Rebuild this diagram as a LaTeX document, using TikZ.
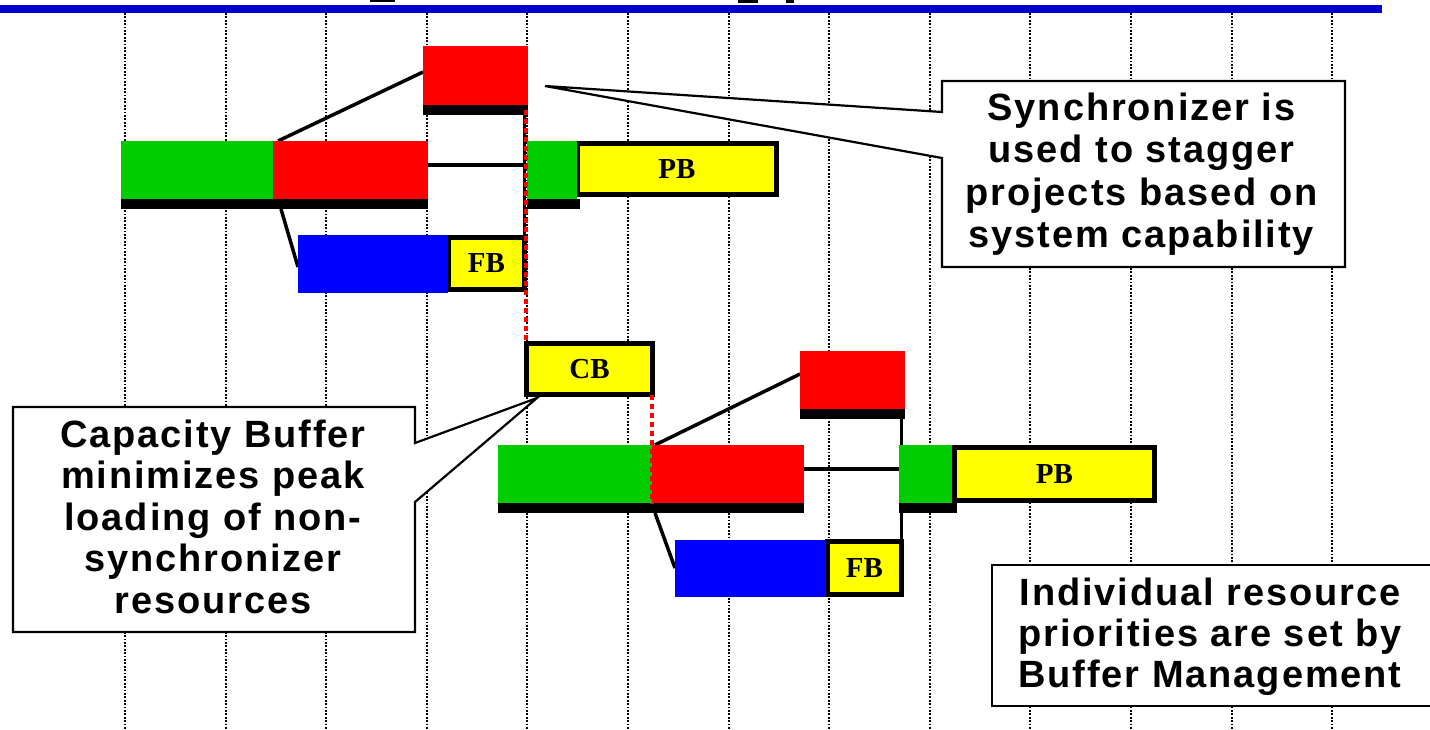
\documentclass[tikz,border=0pt]{standalone}
\usepackage{fontspec}
\newfontfamily\calloutfont[LetterSpace=5.0]{Liberation Sans}
\newfontfamily\labelfont{Liberation Serif}
\usetikzlibrary{calc}
\definecolor{titleblue}{RGB}{0,0,204}
\definecolor{taskgreen}{RGB}{0,204,0}
\definecolor{taskred}{RGB}{255,0,0}
\definecolor{taskblue}{RGB}{0,0,255}
\definecolor{bufyellow}{RGB}{255,255,0}
\tikzset{
  task/.style={rectangle, inner sep=0pt, outer sep=0pt, anchor=north west, draw=none},
  shadowbar/.style={task, fill=black},
  buffer/.style={rectangle, inner sep=0pt, outer sep=0pt, anchor=north west, fill=bufyellow, draw=black, line width=5pt, font=\labelfont\bfseries\fontsize{29}{29}\selectfont},
  link/.style={draw=black, line width=3.5pt},
  syncline/.style={draw=taskred, line width=4pt, dash pattern=on 5pt off 4pt},
  gridline/.style={draw=black, line width=2pt, dash pattern=on 1.8pt off 1.6pt},
  callout/.style={draw=black, fill=white, line width=2.2pt, line join=miter},
  calltext/.style={anchor=base, inner sep=0pt, font=\calloutfont\bfseries\fontsize{38}{42}\selectfont},
}
\begin{document}
\begin{tikzpicture}[x=1pt,y=-1pt]
\useasboundingbox (0,0) rectangle (1430,729);
% title rule and cut-off title fragments
\fill[titleblue] (0,5) rectangle (1382,13);
\fill (370,0) rectangle (395,2);
\fill (738,0) rectangle (758,3);
\fill (786,0) rectangle (794,3);
% grid
\foreach \i in {0,...,12} {
  \draw[gridline] ({125+100.6*\i},13) -- ({125+100.6*\i},729);
}
% ---------- nodes: upper project ----------
\node[task, fill=taskred, minimum width=105pt, minimum height=59pt] (syncA) at (423,46) {};
\node[shadowbar, minimum width=105pt, minimum height=10pt] (syncAsh) at (423,105) {};
\node[task, fill=taskgreen, minimum width=152pt, minimum height=58pt] (gA1) at (121,141) {};
\node[task, fill=taskred, minimum width=155pt, minimum height=58pt] (rA1) at (273,141) {};
\node[shadowbar, minimum width=307pt, minimum height=10pt] (shA1) at (121,199) {};
\node[task, fill=taskgreen, minimum width=50pt, minimum height=58pt] (gA2) at (527,141) {};
\node[shadowbar, minimum width=53pt, minimum height=10pt] (shA2) at (527,199) {};
\node[task, fill=taskblue, minimum width=150pt, minimum height=58pt] (bA) at (298,235) {};
% ---------- nodes: lower project ----------
\node[task, fill=taskred, minimum width=105pt, minimum height=58pt] (syncB) at (800,351) {};
\node[shadowbar, minimum width=105pt, minimum height=10pt] (syncBsh) at (800,409) {};
\node[task, fill=taskgreen, minimum width=154pt, minimum height=58pt] (gB1) at (498,445) {};
\node[task, fill=taskred, minimum width=152pt, minimum height=58pt] (rB1) at (652,445) {};
\node[shadowbar, minimum width=306pt, minimum height=10pt] (shB1) at (498,503) {};
\node[task, fill=taskgreen, minimum width=53pt, minimum height=58pt] (gB2) at (899,445) {};
\node[shadowbar, minimum width=58pt, minimum height=10pt] (shB2) at (899,503) {};
\node[task, fill=taskblue, minimum width=151pt, minimum height=57pt] (bB) at (675,540) {};
% ---------- buffers ----------
\node[buffer, minimum width=199pt, minimum height=51pt] (pbA) at (577.5,143.5) {PB};
\node[buffer, minimum width=76pt, minimum height=52pt] (fbA) at (448.5,237.5) {FB};
\node[buffer, minimum width=126pt, minimum height=51pt] (cb) at (526.5,343.5) {CB};
\node[buffer, minimum width=200pt, minimum height=53pt] (pbB) at (954.5,447.5) {PB};
\node[buffer, minimum width=74pt, minimum height=53pt] (fbB) at (827.5,541.5) {FB};
% ---------- connectors ----------
\draw[link] (syncAsh.south east -| fbA.north east) -- (fbA.north east);
\draw[link] (syncBsh.south east -| fbB.north east) -- (fbB.north east);
\draw[link] ($(rA1.east)+(0,-5)$) -- ($(gA2.west)+(0,-5)$);
\draw[link] ($(rB1.east)+(0,-5)$) -- ($(gB2.west)+(0,-5)$);
\draw[link] ($(rA1.north west)+(5,0)$) -- ($(syncA.north west)+(0,26)$);
\draw[link] ($(shA1.south west)+(160,0)$) -- ($(bA.north west)+(0,32)$);
\draw[link] ($(rB1.north west)+(3,0)$) -- ($(syncB.north west)+(0,23)$);
\draw[link] ($(shB1.south west)+(157,0)$) -- ($(bB.north west)+(0,28)$);
% bars painted again over the connector ends
\foreach \n/\c in {syncA/taskred, rA1/taskred, gA2/taskgreen, bA/taskblue,
                   shA1/black, shA2/black, syncAsh/black,
                   syncB/taskred, rB1/taskred, gB2/taskgreen, bB/taskblue,
                   shB1/black, shB2/black, syncBsh/black} {
  \fill[\c] (\n.north west) rectangle (\n.south east);
}
\draw[link] (fbA.north east) -- (fbA.south east);
\draw[link] (fbB.north east) -- (fbB.south east);
% red synchronizer lines
\draw[syncline] ($(syncA.south east)+(-2.5,5)$) coordinate (rt) -- (rt |- cb.north);
\draw[syncline] (cb.south east -| rB1.west) -- (rB1.south west);
% ---------- callouts ----------
\coordinate (syncTip) at ($(syncA.east)+(17,10.5)$);
\draw[callout] (942,81) -- (1345,81) -- (1345,267) -- (942,267) -- (942,158) -- (syncTip) -- (942,112) -- cycle;
\node[calltext] (s1) at (1141.5,120) {Synchronizer is};
\node[calltext] (s2) at (1141.5,162.5) {used to stagger};
\node[calltext] (s3) at (1141.5,205) {projects based on};
\node[calltext] (s4) at (1141.5,247.5) {system capability};
\coordinate (cbTip) at ($(cb.south west)+(10.5,3.5)$);
\draw[callout] (13,407) -- (415,407) -- (415,443) -- (cbTip) -- (415,502) -- (415,632) -- (13,632) -- cycle;
\node[calltext] (c1) at (213,447) {Capacity Buffer};
\node[calltext] (c2) at (213,488.5) {minimizes peak};
\node[calltext] (c3) at (213,530) {loading of non-};
\node[calltext] (c4) at (213,571.5) {synchronizer};
\node[calltext] (c5) at (213,613) {resources};
\fill[white] (992,565) rectangle (1434,706);
\draw[callout, fill=none] (1434,565) -- (992,565) -- (992,706) -- (1434,706);
\node[calltext] (i1) at (1210,605) {Individual resource};
\node[calltext] (i2) at (1210,646.5) {priorities are set by};
\node[calltext] (i3) at (1210,687) {Buffer Management};
\end{tikzpicture}
\end{document}
